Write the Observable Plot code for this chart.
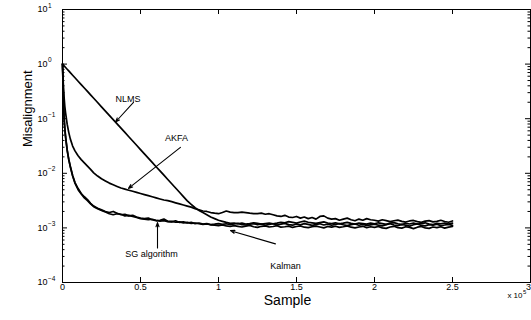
<!DOCTYPE html>
<html>
<head>
<meta charset="utf-8">
<script src="https://cdn.jsdelivr.net/npm/d3@7"></script>
<script src="https://cdn.jsdelivr.net/npm/@observablehq/plot@0.6"></script>
<style>
  html, body { margin: 0; padding: 0; background: #fff; }
</style>
</head>
<body>
<div id="chart"></div>
<script>
// Sample index (x 10^5)
const xs = [0,0.005,0.01,0.015,0.02,0.03,0.04,0.05,0.065,0.08,0.1,0.12,0.14,0.16,0.18,
  0.2,0.225,0.25,0.275,0.3,0.325,0.35,0.375,0.4,0.425,0.45,0.475,
  0.5,0.525,0.55,0.575,0.6,0.625,0.65,0.675,0.7,0.725,0.75,0.775,0.8,0.825,0.85,0.875,0.9,0.925,0.95,0.975,
  1.0,1.025,1.05,1.075,1.1,1.125,1.15,1.175,1.2,1.225,1.25,1.275,1.3,1.325,1.35,1.375,1.4,1.425,1.45,1.475,
  1.5,1.525,1.55,1.575,1.6,1.625,1.65,1.675,1.7,1.725,1.75,1.775,1.8,1.825,1.85,1.875,1.9,1.925,1.95,1.975,
  2.0,2.025,2.05,2.075,2.1,2.125,2.15,2.175,2.2,2.225,2.25,2.275,2.3,2.325,2.35,2.375,2.4,2.425,2.45,2.475,2.5];

const nlms = [1,0.965,0.931,0.897,0.866,0.806,0.75,0.697,0.626,0.562,0.486,0.421,0.365,0.316,0.273,
  0.237,0.198,0.165,0.138,0.115,0.0962,0.0802,0.067,0.056,0.0468,0.039,0.0326,
  0.0272,0.0227,0.019,0.0159,0.0132,0.0111,0.00924,0.0077,0.00644,0.00538,0.00449,0.00375,0.00313,0.00269,0.00234,0.00209,0.00191,0.00174,0.00158,0.00148,
  1.38e-3,1.32e-3,1.26e-3,1.21e-3,1.23e-3,1.19e-3,1.22e-3,1.18e-3,1.2e-3,1.24e-3,1.21e-3,1.17e-3,1.2e-3,1.23e-3,1.19e-3,1.22e-3,1.27e-3,1.24e-3,1.3e-3,1.26e-3,
  1.22e-3,1.28e-3,1.33e-3,1.27e-3,1.24e-3,1.21e-3,1.25e-3,1.29e-3,1.23e-3,1.2e-3,1.24e-3,1.19e-3,1.22e-3,1.26e-3,1.21e-3,1.18e-3,1.23e-3,1.2e-3,1.17e-3,1.22e-3,
  1.19e-3,1.24e-3,1.2e-3,1.16e-3,1.22e-3,1.25e-3,1.19e-3,1.15e-3,1.21e-3,1.18e-3,1.23e-3,1.17e-3,1.2e-3,1.24e-3,1.18e-3,1.15e-3,1.21e-3,1.19e-3,1.23e-3,1.17e-3,1.22e-3];

const akfa = [1,0.447,0.251,0.166,0.126,0.0794,0.0562,0.0427,0.0316,0.0257,0.0209,0.0178,0.0155,0.0135,0.0118,
  0.0102,0.00891,0.00794,0.00724,0.00661,0.00617,0.00575,0.00537,0.00513,0.0049,0.00468,0.00447,
  4.27e-3,4.07e-3,3.89e-3,3.72e-3,3.55e-3,3.39e-3,3.24e-3,3.16e-3,3.02e-3,2.88e-3,2.75e-3,2.63e-3,2.51e-3,2.4e-3,2.24e-3,2.14e-3,2.04e-3,2.0e-3,1.91e-3,1.86e-3,
  1.82e-3,1.91e-3,2.04e-3,1.95e-3,1.91e-3,1.91e-3,1.95e-3,1.91e-3,1.86e-3,1.82e-3,1.82e-3,1.86e-3,1.78e-3,1.82e-3,1.74e-3,1.66e-3,1.62e-3,1.7e-3,1.58e-3,1.55e-3,
  1.62e-3,1.51e-3,1.58e-3,1.48e-3,1.55e-3,1.45e-3,1.62e-3,1.66e-3,1.51e-3,1.45e-3,1.48e-3,1.38e-3,1.45e-3,1.51e-3,1.41e-3,1.35e-3,1.45e-3,1.38e-3,1.48e-3,1.41e-3,
  1.38e-3,1.33e-3,1.41e-3,1.36e-3,1.3e-3,1.35e-3,1.39e-3,1.32e-3,1.28e-3,1.34e-3,1.37e-3,1.3e-3,1.26e-3,1.33e-3,1.36e-3,1.29e-3,1.32e-3,1.38e-3,1.31e-3,1.27e-3,1.34e-3];

const sg = [1,0.282,0.1,0.0631,0.0447,0.0263,0.0178,0.0135,0.00912,0.00676,0.00525,0.00427,0.00372,0.00331,0.00282,
  2.51e-3,2.29e-3,2.14e-3,2.0e-3,1.91e-3,2.0e-3,1.86e-3,1.74e-3,1.78e-3,1.66e-3,1.7e-3,1.58e-3,
  1.51e-3,1.48e-3,1.51e-3,1.41e-3,1.35e-3,1.38e-3,1.45e-3,1.32e-3,1.29e-3,1.35e-3,1.26e-3,1.29e-3,1.23e-3,1.26e-3,1.2e-3,1.23e-3,1.17e-3,1.2e-3,1.15e-3,1.17e-3,
  1.2e-3,1.16e-3,1.19e-3,1.14e-3,1.18e-3,1.21e-3,1.15e-3,1.13e-3,1.17e-3,1.2e-3,1.14e-3,1.18e-3,1.12e-3,1.16e-3,1.19e-3,1.13e-3,1.17e-3,1.21e-3,1.15e-3,1.12e-3,
  1.18e-3,1.14e-3,1.2e-3,1.16e-3,1.11e-3,1.15e-3,1.19e-3,1.13e-3,1.17e-3,1.12e-3,1.16e-3,1.2e-3,1.14e-3,1.1e-3,1.15e-3,1.18e-3,1.12e-3,1.16e-3,1.11e-3,1.14e-3,
  1.17e-3,1.12e-3,1.09e-3,1.15e-3,1.19e-3,1.13e-3,1.1e-3,1.16e-3,1.12e-3,1.08e-3,1.14e-3,1.18e-3,1.11e-3,1.09e-3,1.15e-3,1.12e-3,1.17e-3,1.1e-3,1.13e-3,1.16e-3,1.11e-3];

const kalman = [1,0.316,0.112,0.0676,0.0468,0.0269,0.0182,0.0132,0.00891,0.00661,0.00501,0.00417,0.00355,0.00316,0.00275,
  2.45e-3,2.24e-3,2.09e-3,1.95e-3,1.82e-3,1.74e-3,1.82e-3,1.78e-3,1.66e-3,1.7e-3,1.62e-3,1.55e-3,
  1.48e-3,1.45e-3,1.41e-3,1.44e-3,1.38e-3,1.33e-3,1.36e-3,1.3e-3,1.32e-3,1.27e-3,1.29e-3,1.24e-3,1.26e-3,1.21e-3,1.23e-3,1.19e-3,1.16e-3,1.18e-3,1.14e-3,1.12e-3,
  1.1e-3,1.13e-3,1.09e-3,1.06e-3,1.1e-3,1.07e-3,1.04e-3,1.08e-3,1.11e-3,1.05e-3,1.02e-3,1.07e-3,1.09e-3,1.04e-3,1.06e-3,1.1e-3,1.03e-3,1.05e-3,1.08e-3,1.02e-3,
  1.06e-3,1.09e-3,1.03e-3,1.01e-3,1.05e-3,1.08e-3,1.04e-3,1.0e-3,1.06e-3,1.03e-3,1.07e-3,1.02e-3,1.05e-3,1.09e-3,1.03e-3,1.0e-3,1.04e-3,1.07e-3,1.01e-3,1.05e-3,
  1.02e-3,1.06e-3,1.0e-3,0.98e-3,1.04e-3,1.07e-3,1.01e-3,0.99e-3,1.05e-3,1.02e-3,0.97e-3,1.03e-3,1.06e-3,1.0e-3,0.98e-3,1.04e-3,1.01e-3,1.05e-3,0.99e-3,1.03e-3,1.06e-3];

const seriesNames = ["NLMS", "AKFA", "SG algorithm", "Kalman"];
const seriesValues = [nlms, akfa, sg, kalman];

const xTicks = [0, 0.5, 1, 1.5, 2, 2.5, 3];
const xTickLabels = ["0", "0.5", "1", "1.5", "2", "2.5", "3"];
const yTicks = [1e-4, 1e-3, 1e-2, 1e-1, 1e0, 1e1];
const yExponents = ["\u22124", "\u22123", "\u22122", "\u22121", "0", "1"];

const rows = seriesNames.flatMap((name, k) => xs.map((x, i) => ({name, x, y: seriesValues[k][i]})));
const yMinor = yTicks.slice(0, -1).flatMap(t => [2,3,4,5,6,7,8,9].map(m => m * t));
const xLabelRows = xTicks.map((x, i) => ({x, text: xTickLabels[i]}));

const W = 531, H = 320, mL = 62, mR = 1, mT = 9, mB = 38;
const pw = W - mL - mR, ph = H - mT - mB;
const major = 5, minor = 2.5;
const fs = 9;

const labels = [
  {text: "NLMS", x: 0.42, y: 0.225},
  {text: "AKFA", x: 0.73, y: 0.045},
  {text: "SG algorithm", x: 0.57, y: 3.3e-4},
  {text: "Kalman", x: 1.43, y: 2.0e-4}
];
const arrows = [
  {x1: 0.455, y1: 0.2, x2: 0.34, y2: 0.087},
  {x1: 0.756, y1: 0.0298, x2: 0.423, y2: 0.0053},
  {x1: 0.609, y1: 4.3e-4, x2: 0.609, y2: 1.25e-3},
  {x1: 1.365, y1: 5.1e-4, x2: 1.077, y2: 8.9e-4}
];

const chart = Plot.plot({
  width: W, height: H,
  marginLeft: mL, marginRight: mR, marginTop: mT, marginBottom: mB,
  style: {fontFamily: "'Liberation Sans', Arial, Helvetica, sans-serif", background: "#fff", color: "#000", overflow: "visible"},
  x: {domain: [0, 3], axis: null},
  y: {type: "log", domain: [1e-4, 10], axis: null},
  marks: [
    Plot.line(rows, {x: "x", y: "y", z: "name", stroke: "#000", strokeWidth: 1.7, strokeLinejoin: "round"}),
    Plot.frame({stroke: "#000", strokeWidth: 1}),
    // inward ticks
    Plot.ruleX(xTicks, {x: d => d, insetTop: ph - major, stroke: "#000", strokeWidth: 1}),
    Plot.ruleX(xTicks, {x: d => d, insetBottom: ph - major, stroke: "#000", strokeWidth: 1}),
    Plot.ruleY(yTicks, {y: d => d, insetRight: pw - major, stroke: "#000", strokeWidth: 1}),
    Plot.ruleY(yTicks, {y: d => d, insetLeft: pw - major, stroke: "#000", strokeWidth: 1}),
    Plot.ruleY(yMinor, {y: d => d, insetRight: pw - minor, stroke: "#000", strokeWidth: 1}),
    Plot.ruleY(yMinor, {y: d => d, insetLeft: pw - minor, stroke: "#000", strokeWidth: 1}),
    // tick labels
    Plot.text(xLabelRows.slice(0, -1), {x: "x", text: "text", frameAnchor: "bottom", dy: 7.5, fontSize: fs, fill: "#000"}),
    Plot.text(xLabelRows.slice(-1), {x: "x", text: "text", frameAnchor: "bottom", dy: 7.5, dx: -2, fontSize: fs, fill: "#000"}),
    Plot.text(yTicks, {y: d => d, text: () => "10", frameAnchor: "left", textAnchor: "end", dx: -15, fontSize: fs, fill: "#000"}),
    Plot.text(yTicks, {y: d => d, text: (d, i) => yExponents[i], frameAnchor: "left", textAnchor: "start", dx: -14.5, dy: -4, fontSize: 6.5, fill: "#000"}),
    Plot.text(["x 10"], {frameAnchor: "bottom-right", textAnchor: "end", dx: -8, dy: 15, fontSize: 8, fill: "#000"}),
    Plot.text(["5"], {frameAnchor: "bottom-right", textAnchor: "start", dx: -7.5, dy: 11, fontSize: 6, fill: "#000"}),
    // axis titles
    Plot.text(["Misalignment"], {frameAnchor: "left", rotate: -90, dx: -35, dy: 1, fontSize: 13, fill: "#000"}),
    Plot.text(["Sample"], {frameAnchor: "bottom", dx: -9, dy: 22, fontSize: 14, fill: "#000"}),
    // annotations
    Plot.arrow(arrows, {x1: "x1", y1: "y1", x2: "x2", y2: "y2", stroke: "#000", strokeWidth: 1.1, headLength: 6, headAngle: 40}),
    Plot.text(labels, {x: "x", y: "y", text: "text", fontSize: fs, fill: "#000"})
  ]
});
document.getElementById("chart").appendChild(chart);
</script>
</body>
</html>
